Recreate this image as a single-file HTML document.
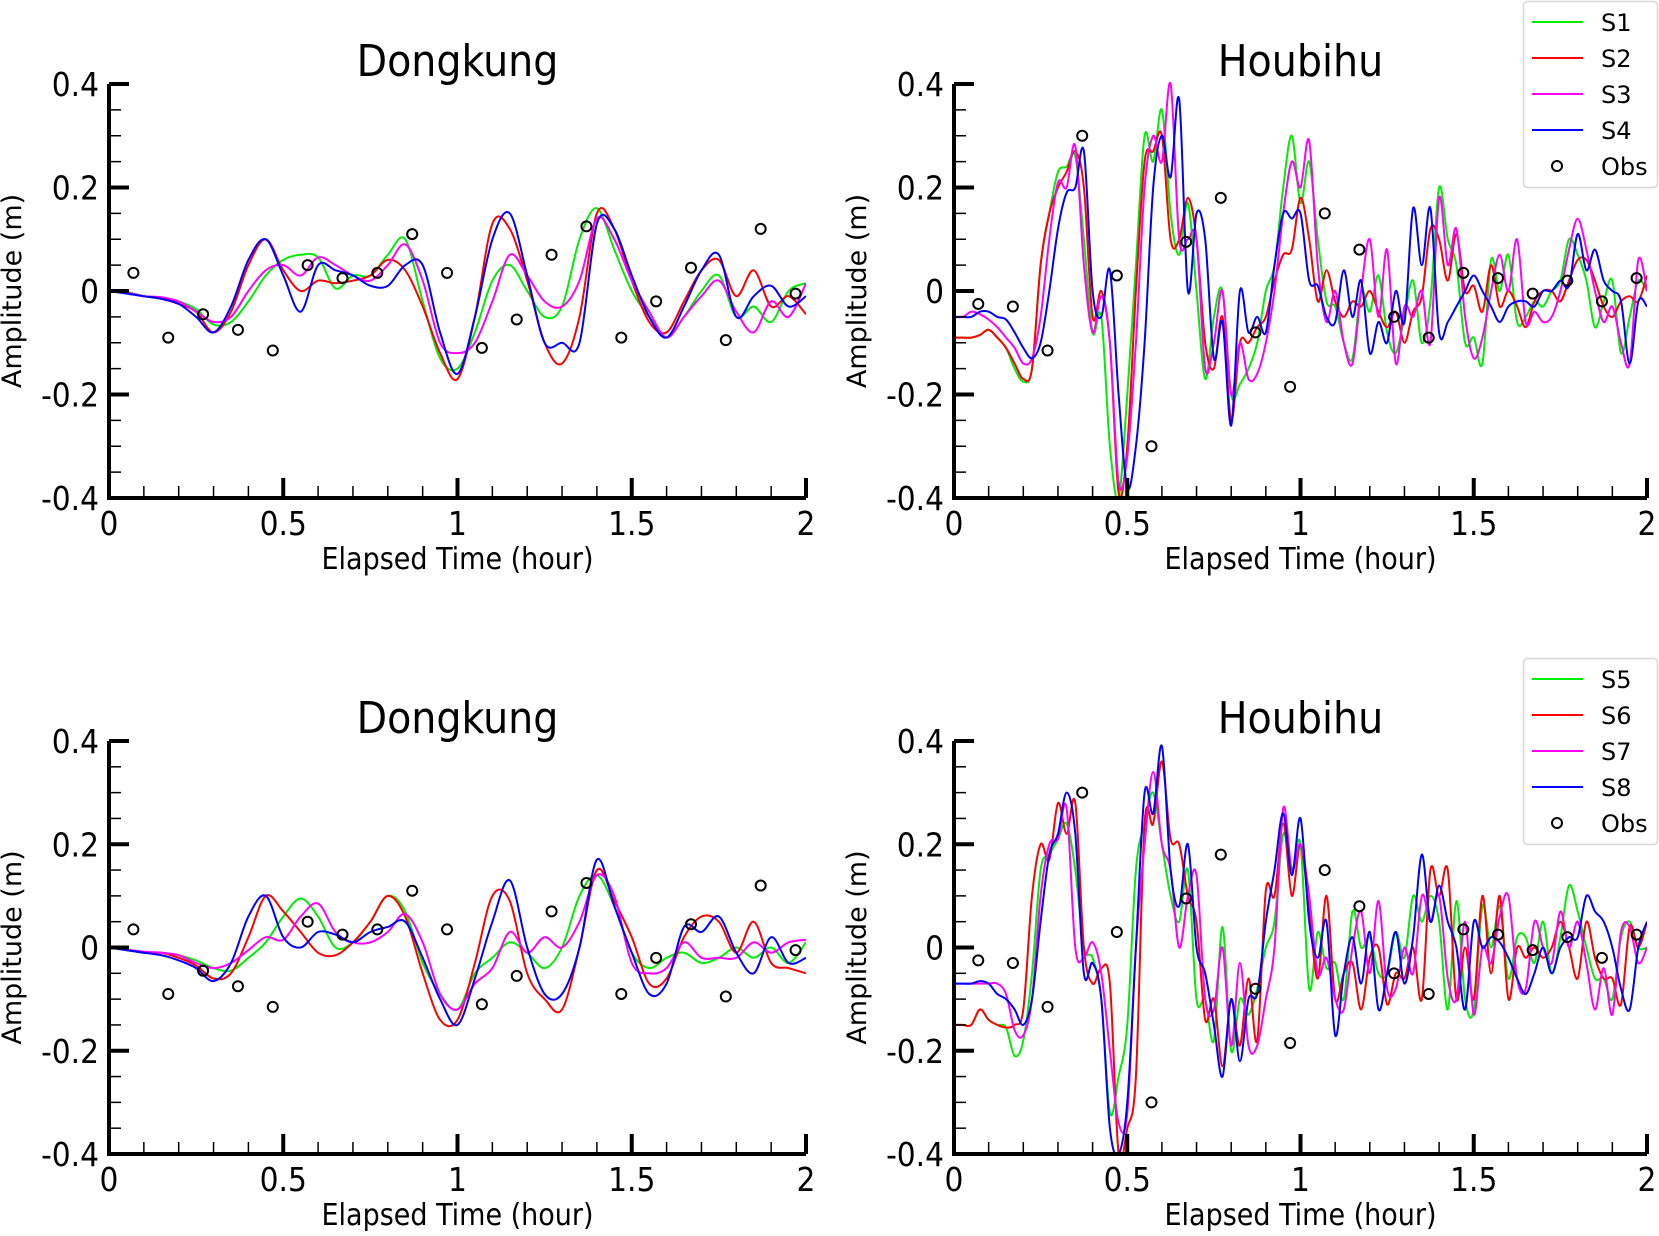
<!DOCTYPE html>
<html><head><meta charset="utf-8"><style>
html,body{margin:0;padding:0;background:#fff}
svg text{font-family:"DejaVu Sans","Liberation Sans",sans-serif;fill:#000}
svg text.tick{font-family:"DejaVu Sans Condensed","DejaVu Sans","Liberation Sans",sans-serif;font-stretch:condensed}
</style></head><body>
<svg id="chart" width="1659" height="1231" viewBox="0 0 1659 1231" xmlns="http://www.w3.org/2000/svg"></svg>
<script>
const xTicks=[0,0.5,1,1.5,2];
const xTickLabels=["0","0.5","1","1.5","2"];
const yTicks=[0.4,0.2,0,-0.2,-0.4];
const yTickLabels=["0.4","0.2","0","-0.2","-0.4"];
const seriesColors=["#00ee00","#ff0000","#ff00ff","#0000ff"];
const dkStep=0.05, hbStep=0.025;
const obsTimes=[0.07,0.17,0.27,0.37,0.47,0.57,0.67,0.77,0.87,0.97,1.07,1.17,1.27,1.37,1.47,1.57,1.67,1.77,1.87,1.97];
const obsDongkung=[0.035,-0.09,-0.045,-0.075,-0.115,0.05,0.025,0.035,0.11,0.035,-0.11,-0.055,0.07,0.125,-0.09,-0.02,0.045,-0.095,0.12,-0.005];
const obsHoubihu=[-0.025,-0.03,-0.115,0.3,0.03,-0.3,0.095,0.18,-0.08,-0.185,0.15,0.08,-0.05,-0.09,0.035,0.025,-0.005,0.02,-0.02,0.025];
const dkS1=[0,-0.002,-0.01,-0.015,-0.02,-0.035,-0.065,-0.06,-0.02,0.03,0.06,0.07,0.065,0.005,0.03,0.03,0.07,0.1,-0.02,-0.13,-0.15,-0.08,0.02,0.05,0,-0.05,-0.03,0.1,0.16,0.08,0,-0.05,-0.09,-0.05,0,0.03,-0.05,-0.03,-0.06,0,0.015];
const dkS2=[0,-0.003,-0.01,-0.015,-0.025,-0.04,-0.08,-0.04,0.05,0.1,0.04,0,0.02,0.015,0.02,0.03,0.06,0.04,-0.03,-0.12,-0.17,-0.05,0.13,0.12,0.02,-0.1,-0.14,-0.05,0.15,0.12,0.02,-0.06,-0.08,-0.02,0.04,0.06,-0.01,0.04,-0.03,-0.01,-0.045];
const dkS3=[0,-0.003,-0.01,-0.012,-0.02,-0.04,-0.06,-0.05,0,0.04,0.05,0.03,0.065,0.05,0.03,0.02,0.05,0.09,0.02,-0.1,-0.12,-0.1,-0.02,0.07,0.03,-0.02,-0.03,0.02,0.14,0.1,0.02,-0.04,-0.09,-0.05,-0.01,0.02,-0.04,-0.08,-0.02,-0.05,0.015];
const dkS4=[0,-0.005,-0.01,-0.015,-0.025,-0.05,-0.08,-0.03,0.06,0.1,0.03,-0.04,0.05,0.04,0.03,0.01,0.01,0.05,0.05,-0.08,-0.16,-0.05,0.1,0.15,0.03,-0.1,-0.1,-0.1,0.13,0.12,0.03,-0.05,-0.09,-0.03,0.04,0.07,-0.05,-0.01,0.01,-0.03,-0.01];
const dkS5=[0,-0.005,-0.01,-0.01,-0.015,-0.025,-0.04,-0.045,-0.02,0.01,0.06,0.095,0.06,0,0.01,0.05,0.1,0.07,-0.03,-0.09,-0.12,-0.05,-0.02,0.01,-0.01,-0.04,0,0.1,0.14,0.08,-0.01,-0.04,-0.02,-0.01,-0.03,-0.02,0,-0.02,0,-0.03,0.01];
const dkS6=[0,-0.005,-0.01,-0.01,-0.02,-0.035,-0.06,-0.05,0.02,0.1,0.07,0.03,-0.01,-0.015,0.01,0.05,0.1,0.06,-0.05,-0.14,-0.14,-0.03,0.1,0.09,-0.05,-0.1,-0.12,0,0.15,0.09,0.02,-0.07,-0.06,0.02,0.06,0.05,-0.01,0.05,-0.03,-0.04,-0.05];
const dkS7=[0,-0.004,-0.008,-0.01,-0.015,-0.03,-0.04,-0.03,-0.005,0.02,0.015,0.06,0.085,0.03,0.01,0.01,0.03,0.065,0.01,-0.09,-0.12,-0.07,-0.04,0.03,-0.01,0.02,0,0.05,0.14,0.1,-0.03,-0.05,-0.04,0.01,-0.02,-0.02,-0.02,0.01,-0.01,0.01,0.015];
const dkS8=[0,-0.005,-0.01,-0.015,-0.025,-0.04,-0.065,-0.03,0.06,0.1,0.02,0,0.03,0.025,0.01,0.03,0.04,0.05,-0.02,-0.1,-0.15,-0.06,0.05,0.13,0,-0.09,-0.09,0,0.17,0.08,-0.01,-0.09,-0.07,0.04,0.03,0.06,-0.01,-0.05,0.02,-0.03,-0.02];
const hbS1=[-0.09,-0.09,-0.09,-0.085,-0.075,-0.09,-0.11,-0.15,-0.175,-0.15,0.05,0.15,0.23,0.24,0.26,0.1,-0.08,-0.05,-0.3,-0.4,-0.2,0.05,0.3,0.25,0.35,0.15,0.07,0.17,0,-0.17,-0.05,0,-0.2,-0.18,-0.15,-0.1,0,0.05,0.2,0.3,0.17,0.25,0.1,-0.02,-0.03,-0.1,-0.13,0,-0.04,0.03,-0.08,-0.12,-0.05,0.02,-0.1,-0.02,0.2,0.1,0.05,-0.1,-0.09,-0.14,0.06,0,0.07,-0.06,-0.05,-0.02,-0.03,0,0.02,0.1,0.07,0.02,-0.07,-0.02,0.02,-0.12,-0.05,0.02,0];
const hbS2=[-0.09,-0.09,-0.09,-0.085,-0.075,-0.09,-0.11,-0.14,-0.17,-0.15,0.05,0.15,0.2,0.23,0.27,0.2,-0.05,0,-0.1,-0.39,-0.3,0,0.25,0.27,0.3,0.1,0.1,0.18,0.1,-0.1,-0.15,-0.05,-0.25,-0.1,-0.1,-0.07,-0.05,0.02,0.07,0.08,0.18,0.1,-0.02,0.04,-0.02,-0.05,-0.02,-0.03,0,-0.04,-0.07,-0.04,-0.1,-0.04,-0.01,0.12,0.1,0.02,0.11,0,0.01,-0.04,0.05,-0.03,0,-0.03,-0.07,-0.02,0,0,-0.02,0.02,0.06,0.06,0.02,-0.03,-0.05,-0.02,-0.01,-0.02,0.03];
const hbS3=[-0.05,-0.05,-0.04,-0.045,-0.055,-0.07,-0.09,-0.11,-0.14,-0.13,-0.05,0.1,0.21,0.2,0.28,0.05,-0.08,-0.01,-0.1,-0.37,-0.32,-0.1,0.2,0.3,0.25,0.4,0.1,0.1,0.1,-0.15,-0.1,0,-0.2,-0.1,-0.17,-0.16,-0.1,0,0.15,0.25,0.2,0.29,0.05,-0.06,0,-0.1,-0.14,0,0.1,-0.05,0.08,-0.14,-0.03,-0.05,0,-0.1,0.18,0.05,0.12,-0.05,-0.13,-0.09,0,0.07,0,0.1,-0.06,-0.04,-0.06,-0.05,0,0.08,0.14,0.08,0,-0.06,-0.03,-0.1,-0.14,0.06,0];
const hbS4=[-0.05,-0.05,-0.05,-0.04,-0.04,-0.05,-0.055,-0.08,-0.11,-0.13,-0.1,0,0.12,0.19,0.2,0.27,0,-0.05,0.04,-0.2,-0.38,-0.3,-0.1,0.2,0.3,0.22,0.37,0,0.15,0.1,-0.13,-0.06,-0.26,0,-0.08,-0.05,-0.08,0.05,0.15,0.14,0.15,0.02,0.01,-0.05,-0.06,0.04,-0.05,0.02,-0.12,-0.06,-0.1,0,-0.06,0.16,0.05,0.16,-0.08,-0.06,-0.03,0,0.03,0,-0.03,-0.06,-0.03,-0.02,-0.02,-0.03,0,0,0.02,0.01,0.11,0.04,0.08,0.02,0,-0.02,-0.14,-0.02,-0.03];
const hbS5=[-0.15,-0.15,-0.15,-0.12,-0.14,-0.15,-0.155,-0.21,-0.18,-0.05,0.15,0.18,0.21,0.24,0.15,0,-0.02,-0.1,-0.32,-0.25,-0.15,0.15,0.24,0.3,0.2,0.1,0.05,0.15,-0.1,-0.1,-0.18,0.04,-0.2,-0.1,-0.13,-0.08,0,0.05,0.22,0.15,0.2,-0.08,0.03,-0.04,-0.03,-0.1,0.07,0,0.02,-0.05,-0.05,0.03,-0.02,0.1,0.05,0.1,0.05,-0.12,0.09,-0.1,-0.12,0.08,0,0.08,-0.06,0.02,0.02,-0.03,0.05,-0.05,0.02,0.12,0.07,0,-0.06,-0.06,-0.1,0.02,0.05,0,0];
const hbS6=[-0.15,-0.15,-0.15,-0.12,-0.14,-0.15,-0.155,-0.15,-0.12,0.1,0.2,0.17,0.28,0.22,0.28,0,-0.07,-0.04,-0.07,-0.4,-0.35,-0.25,0.24,0.24,0.36,0.21,0.2,0.1,0.05,-0.14,-0.1,-0.23,-0.1,-0.19,-0.06,-0.18,0.11,0.1,0.24,0.1,0.2,0.07,-0.06,0.1,-0.1,-0.05,-0.03,-0.12,-0.02,0,-0.11,-0.05,-0.06,0,-0.1,0.15,0.1,0.15,-0.1,0,-0.1,0.1,-0.05,0.1,-0.1,0,-0.02,0,-0.02,0,0.05,0,-0.06,0.05,-0.02,-0.06,-0.06,-0.11,0.04,0,0.05];
const hbS7=[-0.07,-0.07,-0.07,-0.07,-0.07,-0.07,-0.09,-0.16,-0.17,-0.1,0.1,0.2,0.21,0.27,0,-0.02,0.01,-0.05,-0.2,-0.34,-0.32,0,0.2,0.34,0.2,0.15,0,0.1,0.14,-0.1,-0.12,0,-0.19,-0.03,-0.19,-0.19,-0.1,0,0.27,0.15,0.2,0.1,-0.05,-0.02,-0.1,-0.12,0,0.07,-0.05,0.09,-0.08,-0.08,0,-0.05,0.1,0.05,0.1,-0.06,-0.1,0.05,-0.13,0,-0.03,0.06,0.1,-0.06,-0.08,0.05,0,-0.03,0.07,0,0.05,-0.03,-0.12,-0.04,-0.13,0.03,0.04,-0.03,0];
const hbS8=[-0.07,-0.07,-0.07,-0.065,-0.07,-0.09,-0.1,-0.12,-0.15,-0.1,0.05,0.18,0.22,0.3,0.22,-0.05,-0.03,-0.1,-0.35,-0.4,-0.3,0,0.3,0.26,0.39,0.15,0.08,0.2,0,-0.05,-0.15,-0.25,-0.1,-0.22,-0.1,-0.09,0.05,0.15,0.26,0.14,0.25,0.05,-0.02,0.05,-0.17,-0.05,0.02,-0.07,0.03,-0.12,-0.05,0.03,-0.07,0.02,0.18,0.05,0.12,0.05,0,-0.12,0.05,0,0.02,0.01,-0.02,-0.06,-0.09,-0.05,0,-0.05,0,0.02,0.02,0.1,0.07,0.05,0,-0.08,-0.12,0,0.05];

const NS="http://www.w3.org/2000/svg";
const svg=document.getElementById('chart');
function mk(tag,attrs,parent){const e=document.createElementNS(NS,tag);for(const k in attrs)e.setAttribute(k,attrs[k]);(parent||svg).appendChild(e);return e;}

function panel(cfg){
  const g=mk('g',{});
  
  
  const {x0,x1,y0,y1}=cfg;
  const X=t=>x0+(t-0)/(2-0)*(x1-x0);
  const Y=v=>y0+(0.4-v)/0.8*(y1-y0);
  const clip='clip-'+cfg.name;
  const cp=mk('clipPath',{id:clip},g);mk('rect',{x:x0,y:y0-2,width:x1-x0,height:y1-y0+4},cp);
  cfg.series.forEach((vals,si)=>{
    const pts=vals.map((v,i)=>[X(i*cfg.step),Y(v)]);
    let d='M'+pts[0][0].toFixed(1)+','+pts[0][1].toFixed(1);
    for(let i=0;i<pts.length-1;i++){
      const p0=pts[Math.max(0,i-1)],p1=pts[i],p2=pts[i+1],p3=pts[Math.min(pts.length-1,i+2)];
      const c1=[p1[0]+(p2[0]-p0[0])/6,p1[1]+(p2[1]-p0[1])/6];
      const c2=[p2[0]-(p3[0]-p1[0])/6,p2[1]-(p3[1]-p1[1])/6];
      d+='C'+c1[0].toFixed(1)+','+c1[1].toFixed(1)+' '+c2[0].toFixed(1)+','+c2[1].toFixed(1)+' '+p2[0].toFixed(1)+','+p2[1].toFixed(1);
    }
    const p=mk('path',{d:d,fill:'none',stroke:seriesColors[si],'stroke-width':2,'clip-path':'url(#'+clip+')'},g);
    
    
  });
  cfg.obs.forEach((v,i)=>{
    const c=mk('circle',{cx:X(obsTimes[i]),cy:Y(v),r:5,fill:'none',stroke:'#000','stroke-width':2},g);
    
    
  });
  const ax=mk('path',{d:`M${x0},${y0} V${y1} H${x1}`,fill:'none',stroke:'#000','stroke-width':4},g);
  
  
  for(let k=0;k<=16;k++){const v=-0.4+k*0.05;const y=Y(v);const major=k%4===0;
    mk('line',{x1:x0,x2:x0+(major?20:12),y1:y,y2:y,stroke:'#000','stroke-width':major?4:1.5},g);}
  for(let k=0;k<=20;k++){const t=k*0.1;const x=X(t);const major=k%5===0;
    mk('line',{x1:x,x2:x,y1:y1,y2:y1-(major?20:12),stroke:'#000','stroke-width':major?4:1.5},g);}
  yTicks.forEach((v,i)=>{const t=mk('text',{x:x0-10,y:Y(v)+12,'text-anchor':'end','font-size':33,'class':'tick'},g);t.textContent=yTickLabels[i];
    });
  xTicks.forEach((v,i)=>{const t=mk('text',{x:X(v),y:y1+37,'text-anchor':'middle','font-size':33,'class':'tick'},g);t.textContent=xTickLabels[i];
    });
  const xt=mk('text',{x:(x0+x1)/2,y:y1+71,'text-anchor':'middle','font-size':30,'class':'tick'},g);xt.textContent='Elapsed Time (hour)';
  
  const yc=(y0+y1)/2;const yx=x0-88;
  const yt=mk('text',{x:yx,y:yc,'text-anchor':'middle','font-size':27,transform:`rotate(-90 ${yx} ${yc})`},g);yt.textContent='Amplitude (m)';
  
  const tt=mk('text',{x:(x0+x1)/2,y:y0-8,'text-anchor':'middle','font-size':44,'class':'tick'},g);tt.textContent=cfg.title;
  
}
function legend(top,labels,name){
  const g=mk('g',{});
  
  
  mk('rect',{x:1523.5,y:top+1.5,width:134,height:186,rx:4,fill:'#fff',stroke:'#d8d8d8','stroke-width':1.5},g);
  labels.forEach((l,i)=>{const y=top+22+i*36;
    const ln=mk('line',{x1:1532,x2:1583,y1:y,y2:y,stroke:seriesColors[i],'stroke-width':2},g);
    
    const t=mk('text',{x:1601,y:y+9,'font-size':24},g);t.textContent=l;
    });
  const y=top+22+4*36;
  mk('circle',{cx:1557,cy:y,r:5,fill:'none',stroke:'#000','stroke-width':2},g);
  const t=mk('text',{x:1601,y:y+9,'font-size':24},g);t.textContent='Obs';
  
}
panel({name:'dongkung-top-panel',title:'Dongkung',x0:109,x1:806,y0:84,y1:498,step:dkStep,series:[dkS1,dkS2,dkS3,dkS4],labels:['S1','S2','S3','S4'],obs:obsDongkung});
panel({name:'houbihu-top-panel',title:'Houbihu',x0:954,x1:1647,y0:84,y1:498,step:hbStep,series:[hbS1,hbS2,hbS3,hbS4],labels:['S1','S2','S3','S4'],obs:obsHoubihu});
panel({name:'dongkung-bottom-panel',title:'Dongkung',x0:109,x1:806,y0:741,y1:1154,step:dkStep,series:[dkS5,dkS6,dkS7,dkS8],labels:['S5','S6','S7','S8'],obs:obsDongkung});
panel({name:'houbihu-bottom-panel',title:'Houbihu',x0:954,x1:1647,y0:741,y1:1154,step:hbStep,series:[hbS5,hbS6,hbS7,hbS8],labels:['S5','S6','S7','S8'],obs:obsHoubihu});
legend(0,['S1','S2','S3','S4'],'legend-top');
legend(657,['S5','S6','S7','S8'],'legend-bottom');
</script>
</body></html>
